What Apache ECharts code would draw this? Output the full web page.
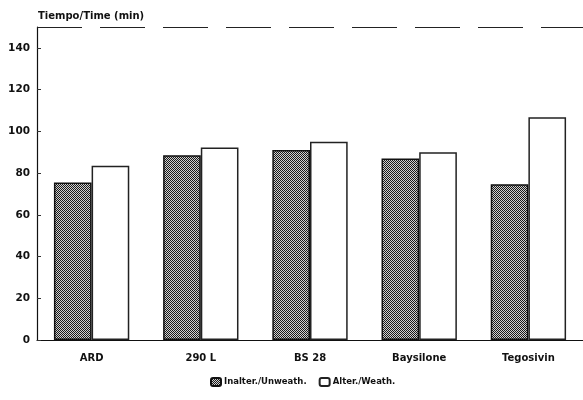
<!DOCTYPE html>
<html>
<head>
<meta charset="utf-8">
<script src="https://cdn.jsdelivr.net/npm/echarts@6/dist/echarts.min.js"></script>
<style>
html,body{margin:0;padding:0;background:#fff;}
#chart{width:583px;height:400px;}
</style>
</head>
<body>
<div id="chart"></div>
<script>
var categories = ['ARD', '290 L', 'BS 28', 'Baysilone', 'Tegosivin'];
var unweathered = [75.5, 88.5, 91, 87, 74.7];
var weathered = [83.5, 92.3, 95, 90, 106.8];
var seriesNames = ['Inalter./Unweath.', 'Alter./Weath.'];
var yTicks = [0, 20, 40, 60, 80, 100, 120, 140];
var yMax = 150;
var axisTitle = 'Tiempo/Time (min)';

function makePattern() {
  var c = document.createElement('canvas');
  c.width = 4; c.height = 4;
  var ctx = c.getContext('2d');
  ctx.fillStyle = '#d0d0d0';
  ctx.fillRect(0, 0, 4, 4);
  ctx.fillStyle = '#1a1a1a';
  for (var y = 0; y < 4; y++) {
    for (var x = 0; x < 4; x++) {
      if ((x + y) % 2 === 0) ctx.fillRect(x, y, 1, 1);
    }
  }
  return c;
}
var pattern = { image: makePattern(), repeat: 'repeat' };
var font = '"DejaVu Sans", sans-serif';

var chart = echarts.init(document.getElementById('chart'), null, { renderer: 'canvas' });
chart.setOption({
  animation: false,
  backgroundColor: '#fff',
  title: {
    text: axisTitle,
    left: 33, top: 6,
    textStyle: { fontFamily: font, fontSize: 10, fontWeight: 'bold', color: '#111' }
  },
  legend: {
    data: seriesNames,
    left: 205, top: 372,
    itemWidth: 10, itemHeight: 8, itemGap: 12,
    textStyle: { fontFamily: font, fontSize: 8.5, fontWeight: 'bold', color: '#111', padding: [0, 0, 0, -2] }
  },
  grid: { left: 37, right: -3, top: 27, bottom: 60, containLabel: false },
  xAxis: {
    type: 'category',
    data: categories,
    axisLine: { lineStyle: { color: '#111', width: 1.2 } },
    axisTick: { show: false },
    axisLabel: { fontFamily: font, fontSize: 10, fontWeight: 'bold', color: '#111', margin: 13 }
  },
  yAxis: {
    type: 'value',
    min: 0, max: yMax, interval: 20,
    axisLine: { show: true, lineStyle: { color: '#111', width: 1.2 } },
    axisTick: { show: true, inside: true, length: 4, lineStyle: { color: '#333' } },
    splitLine: { show: false },
    axisLabel: {
      fontFamily: font, fontSize: 10.5, fontWeight: 'bold', color: '#111', margin: 7,
      formatter: function (v) { return yTicks.indexOf(v) >= 0 ? String(v) : ''; }
    }
  },
  series: [
    {
      name: seriesNames[0],
      type: 'bar',
      data: unweathered,
      barGap: '0%',
      barCategoryGap: '31%',
      itemStyle: { color: pattern, borderColor: '#111', borderWidth: 1.5 },
      markLine: {
        silent: true,
        symbol: 'none',
        label: { show: false },
        lineStyle: { color: '#222', type: [45, 18], width: 1 },
        data: [{ yAxis: yMax }]
      }
    },
    {
      name: seriesNames[1],
      type: 'bar',
      data: weathered,
      itemStyle: { color: '#fff', borderColor: '#222', borderWidth: 1.5 }
    }
  ]
});
</script>
</body>
</html>
